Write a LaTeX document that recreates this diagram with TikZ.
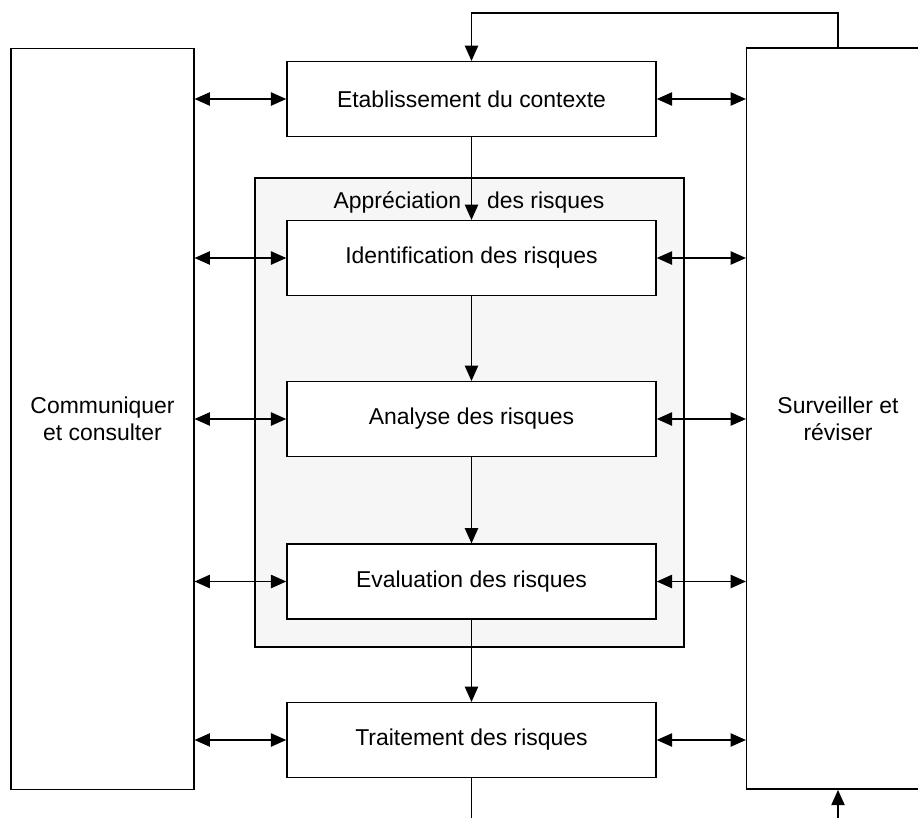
\documentclass[tikz,border=0pt]{standalone}
\usepackage{fontspec}
\setmainfont{Liberation Sans}
\usetikzlibrary{arrows.meta}
\definecolor{apprgray}{HTML}{F6F6F6}
\tikzset{
  every node/.style={font=\fontsize{17.2}{20.5}\selectfont, align=center},
  stepbox/.style={shape=rectangle, draw=black, fill=white, line width=1.1pt, minimum width=276.75pt, minimum height=56pt, inner sep=0pt},
  sidebox/.style={shape=rectangle, draw=black, fill=white, line width=1.1pt, minimum width=137pt, minimum height=556pt, inner sep=0pt},
  link/.style={line width=1.1pt, -{Triangle[length=11.5pt,width=10pt]}},
  twoway/.style={line width=1.1pt, {Triangle[length=11.5pt,width=10pt]}-{Triangle[length=11.5pt,width=10pt]}}
}
\begin{document}
\begin{tikzpicture}[x=0.75pt,y=-0.75pt]
            \useasboundingbox (0,0) rectangle (918,818);
            % assessment frame
            \node[shape=rectangle,draw=black,fill=apprgray,line width=1.1pt,minimum width=321.75pt,minimum height=351.75pt] (appr) at (469.5,412.5) {};
            \node (apprT) at (469,202) {Appréciation\hspace{19.5pt}des risques};

            % side boxes
            \node[sidebox] (comm) at (102.5,419) {Communiquer\\et consulter};
            \node[sidebox] (surv) at (838,418.5) {Surveiller et\\réviser};

            % steps
            \node[stepbox] (ctx) at (471.5,99) {Etablissement du contexte};
            \node[stepbox] (ident) at (471.5,258) {Identification des risques};
            \node[stepbox] (anal) at (471.5,419) {Analyse des risques};
            \node[stepbox] (eval) at (471.5,581.5) {Evaluation des risques};
            \node[stepbox] (trait) at (471.5,740) {Traitement des risques};
            \coordinate (outT) at (471.5,818);
            \coordinate (inS) at (838,818);

            % flow
            \path [link] (ctx) edge (ident);
            \path [link] (ident) edge (anal);
            \path [link] (anal) edge (eval);
            \path [link] (eval) edge (trait);
            \draw [line width=1.1pt] (trait) -- (outT);
            \draw [link] (inS) -- (surv.south);
            \draw [link] (surv.north) -- ++(0,-34) -| (ctx.north);

            % communication and review
            \foreach \s in {ctx,ident,anal,eval,trait} {
              \draw [twoway] (\s.west -| comm.east) -- (\s.west);
              \draw [twoway] (\s.east) -- (\s.east -| surv.west);
            }
        \end{tikzpicture}
\end{document}
